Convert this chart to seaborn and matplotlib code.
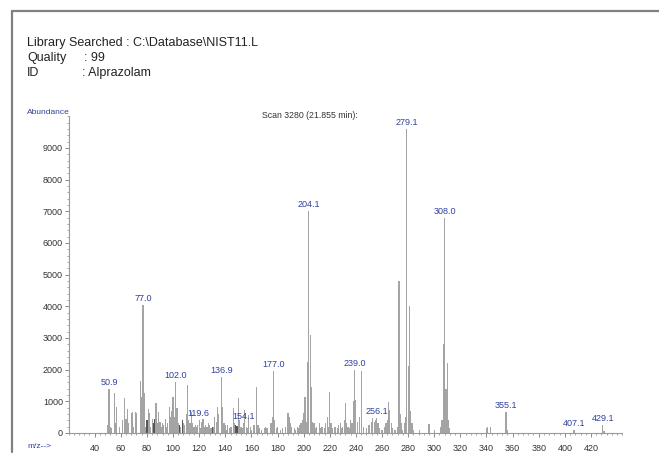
import matplotlib
matplotlib.use("Agg")
import matplotlib.pyplot as plt
import numpy as np
import pandas as pd
import seaborn as sns
from matplotlib.ticker import MultipleLocator
from matplotlib.lines import Line2D

# ---------------- data ----------------
mz = [50, 51, 52, 53, 55, 56, 57, 59, 61, 63, 64, 65, 66, 68, 69, 70, 71, 72,
      75, 76, 77, 78, 79, 81, 82, 83, 84, 87, 88, 89, 90, 91, 92, 93, 94, 95,
      96, 97, 98, 99, 100, 101, 102, 103, 104, 106, 108, 109, 110, 111, 112,
      113, 114, 115, 116, 117, 118, 119, 120, 121, 122, 123, 124, 125, 126,
      127, 128, 129, 131, 132, 133, 134, 135, 137, 138, 139, 140, 141, 142,
      143, 144, 145, 146, 147, 150, 151, 152, 153, 154, 155, 156, 157, 158,
      159, 160, 162, 164, 165, 166, 168, 170, 171, 172, 175, 176, 177, 178,
      179, 180, 182, 184, 186, 188, 189, 190, 191, 193, 194, 195, 196, 197,
      198, 199, 200, 201, 202, 203, 204, 205, 206, 207, 208, 209, 210, 212,
      213, 214, 216, 217, 218, 219, 220, 221, 222, 224, 226, 227, 228, 229,
      230, 231, 232, 233, 234, 235, 236, 237, 238, 239, 240, 241, 243, 244,
      246, 248, 250, 252, 253, 254, 255, 256, 257, 258, 260, 262, 263, 264,
      265, 266, 267, 268, 270, 272, 273, 274, 275, 276, 277, 278, 279, 280,
      281, 282, 283, 284, 289, 296, 300, 305, 306, 307, 308, 309, 310, 311,
      312, 340, 341, 343, 355, 356, 407, 429, 430]
abundance = [250, 1380, 200, 150, 1270, 300, 820, 200, 420, 1100, 450, 760,
             300, 640, 650, 200, 650, 640, 1650, 1150, 4050, 1260, 200, 760,
             630, 200, 450, 940, 300, 670, 350, 200, 300, 250, 450, 200, 300,
             830, 500, 700, 1150, 500, 1620, 800, 300, 200, 300, 250, 600,
             1520, 400, 300, 670, 300, 200, 250, 200, 250, 400, 150, 360, 430,
             200, 250, 200, 300, 250, 150, 200, 500, 350, 830, 600, 1780, 820,
             300, 250, 100, 250, 150, 200, 200, 780, 300, 1100, 400, 200, 150,
             300, 730, 200, 150, 570, 200, 100, 250, 1450, 250, 150, 100, 150,
             200, 150, 300, 500, 1950, 400, 150, 190, 100, 150, 200, 630, 500,
             300, 200, 150, 100, 200, 150, 250, 300, 410, 630, 1150, 350, 2250,
             7000, 3100, 1460, 350, 300, 150, 200, 300, 150, 200, 150, 300, 500,
             200, 1300, 300, 150, 200, 150, 250, 300, 150, 200, 400, 950, 300,
             200, 150, 400, 300, 1000, 1980, 1050, 350, 500, 1950, 200, 150,
             250, 350, 470, 350, 400, 470, 300, 150, 100, 200, 300, 400, 990,
             730, 300, 150, 100, 200, 4800, 600, 300, 100, 300, 500, 9600, 2100,
             4000, 700, 300, 100, 100, 280, 100, 200, 400, 2800, 6800, 1400,
             2200, 400, 150, 150, 200, 200, 670, 100, 80, 250, 60]
dark_mz = [80, 85, 86, 105, 107, 130, 148, 149]
dark_abundance = [420, 300, 450, 250, 400, 200, 250, 220]

label_mz = [50.9, 77.0, 102.0, 119.6, 136.9, 154.1, 177.0, 204.1, 239.0,
            256.1, 279.1, 308.0, 355.1, 407.1, 429.1]
label_text = ["50.9", "77.0", "102.0", "119.6", "136.9", "154.1", "177.0",
              "204.1", "239.0", "256.1", "279.1", "308.0", "355.1", "407.1",
              "429.1"]
y_ticks = [0, 1000, 2000, 3000, 4000, 5000, 6000, 7000, 8000, 9000]
x_ticks = [40, 60, 80, 100, 120, 140, 160, 180, 200, 220, 240, 260, 280, 300,
           320, 340, 360, 380, 400, 420]

header_lines = [("Library Searched : C:\\Database\\NIST11.L", None),
                ("Quality", ": 99"),
                ("ID", ": Alprazolam")]
scan_title = "Scan 3280 (21.855 min):"

# ---------------- styling ----------------
sns.set_theme(style="white")
plt.rcParams['font.family'] = ['Liberation Sans Narrow', 'Liberation Sans',
                               'DejaVu Sans']

W, H = 659, 468
fig = plt.figure(figsize=(W / 100, H / 100), dpi=100)
fig.patch.set_facecolor("white")


def fx(px):
    return px / W


def fy(py):
    return 1 - py / H


ax_left, ax_right, ax_bottom, ax_top = 68.56, 622.3, 433.0, 116.3
ax = fig.add_axes([fx(ax_left), fy(ax_bottom), (ax_right - ax_left) / W,
                   (ax_bottom - ax_top) / H])

df = pd.concat([
    pd.DataFrame({"mz": mz, "abundance": abundance, "tone": "light"}),
    pd.DataFrame({"mz": dark_mz, "abundance": dark_abundance, "tone": "dark"}),
], ignore_index=True)
sns.barplot(data=df, x="mz", y="abundance", hue="tone", native_scale=True,
            width=0.9, dodge=False, palette={"light": "#a4a4a4",
                                             "dark": "#555555"},
            saturation=1, linewidth=0, errorbar=None, legend=False, ax=ax)

ax.set_xlim(20, 444)
ax.set_ylim(0, 10000)
ax.set_xlabel("")
ax.set_ylabel("")
ax.set_facecolor("white")
for s in ["top", "right"]:
    ax.spines[s].set_visible(False)
for s in ["left", "bottom"]:
    ax.spines[s].set_color("#9a9a9a")
    ax.spines[s].set_linewidth(0.8)

ax.set_yticks(y_ticks)
ax.set_yticklabels([str(v) for v in y_ticks])
ax.yaxis.set_minor_locator(MultipleLocator(200))
ax.set_xticks(x_ticks)
ax.set_xticklabels([str(v) for v in x_ticks])
ax.xaxis.set_minor_locator(MultipleLocator(4))
ax.tick_params(axis="both", which="major", direction="out", length=3,
               width=0.7, color="#8a8a8a", labelsize=6.5, labelcolor="#333333")
ax.tick_params(axis="both", which="minor", direction="out", length=1.6,
               width=0.6, color="#9a9a9a")
ax.tick_params(axis="x", which="major", pad=5)
ax.tick_params(axis="y", which="major", pad=1)
ax.tick_params(left=True, bottom=True, which="both")

lookup = dict(zip(mz, abundance))
for m, t in zip(label_mz, label_text):
    h = lookup.get(int(round(m)), 0)
    ax.annotate(t, (m, h), xytext=(0, 1.5), textcoords="offset points",
                ha="center", va="bottom", fontsize=6.5, color="#3040a0",
                annotation_clip=False)

# header text
fig.text(fx(27), fy(43), header_lines[0][0], fontsize=9, color="#222222",
         va="center", ha="left")
fig.text(fx(27), fy(58), header_lines[1][0], fontsize=9, color="#222222",
         va="center", ha="left")
fig.text(fx(84), fy(58), header_lines[1][1], fontsize=9, color="#222222",
         va="center", ha="left")
fig.text(fx(27), fy(73), header_lines[2][0], fontsize=9, color="#222222",
         va="center", ha="left")
fig.text(fx(82), fy(73), header_lines[2][1], fontsize=9, color="#222222",
         va="center", ha="left")

fig.text(fx(27), fy(112), "Abundance", fontsize=6, color="#3040a0",
         va="center", ha="left")
fig.text(fx(310), fy(115), scan_title, fontsize=6.3, color="#333333",
         va="center", ha="center")
fig.text(fx(27), fy(447), "m/z-->", fontsize=6, color="#3040a0",
         va="center", ha="left")

# frame of the screenshot
fig.add_artist(Line2D([fx(12), fx(659)], [fy(11), fy(11)],
                      transform=fig.transFigure, color="#808080", lw=1.6))
fig.add_artist(Line2D([fx(12), fx(12)], [fy(11), fy(452)],
                      transform=fig.transFigure, color="#808080", lw=1.6))

fig.savefig("out.png", dpi=100, facecolor="white")
